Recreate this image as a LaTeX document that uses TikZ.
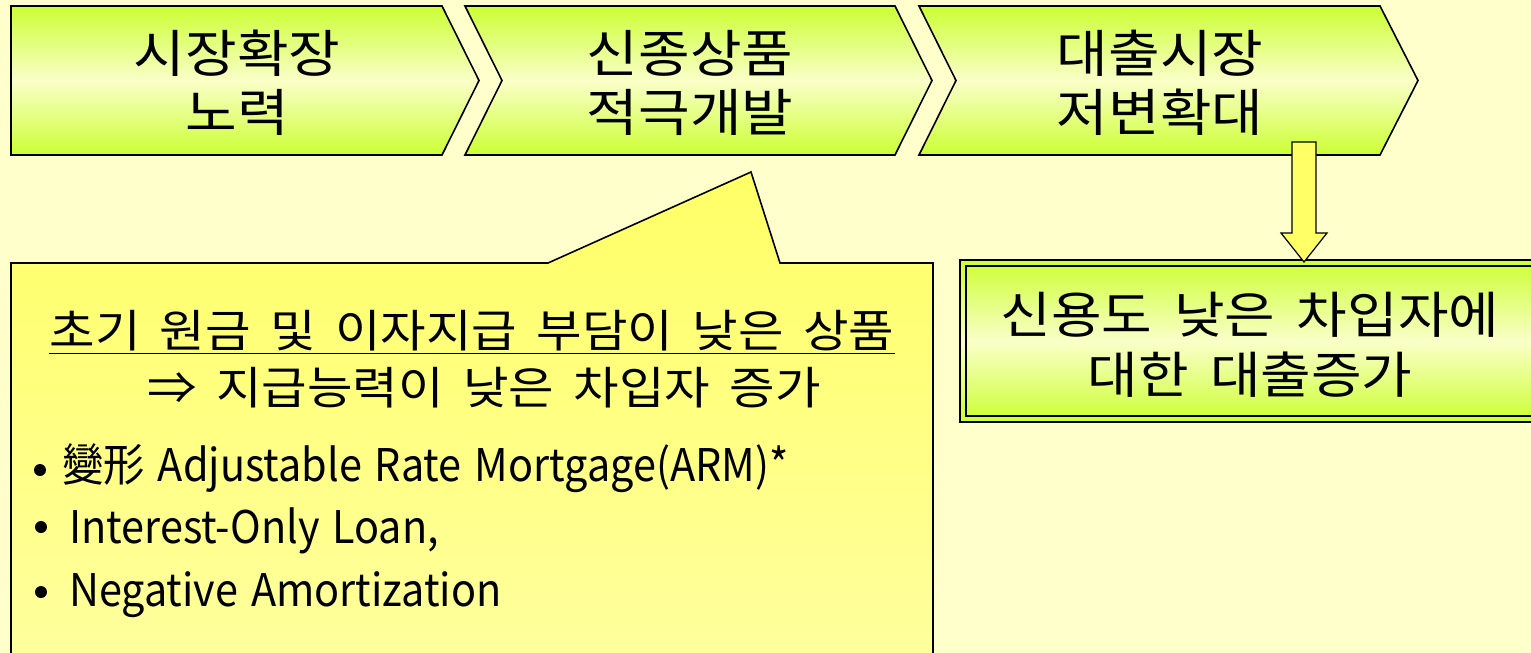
\documentclass[tikz,border=0pt]{standalone}
\usepackage{fontspec}
\setmainfont{Noto Sans CJK KR}
\newfontfamily\kr{Noto Sans CJK KR}[WordSpace=2.2, FakeStretch=1.1]
\newfontfamily\krc{Noto Sans CJK KR}[WordSpace=1.75, FakeStretch=1.1]
\newfontfamily\en{Noto Sans CJK KR}[WordSpace=1.4, FakeStretch=0.92]
\newcommand\myfs[2]{\fontsize{#1}{#2}\selectfont}
\definecolor{bg}{HTML}{FFFFCC}
\definecolor{gedge}{HTML}{CCFF33}
\definecolor{gmid}{HTML}{FAFFC8}
\definecolor{ytop}{HTML}{FFFF66}
\definecolor{ybot}{HTML}{FFFFA0}
\definecolor{arrfill}{HTML}{FFFF66}
\tikzset{
  chev/.style={draw=black, line width=1.6pt, line join=miter, top color=gedge, bottom color=gedge, middle color=gmid},
  chevtext/.style={align=center, inner sep=0pt, font=\kr\myfs{51}{59}},
  boxtext/.style={align=center, inner sep=0pt, font=\kr\myfs{50}{60}},
  calltext/.style={inner sep=0pt, font=\krc\myfs{45}{52}},
  bullettext/.style={anchor=west, inner sep=0pt, font=\en\myfs{45}{52}},
  bulletdot/.style={circle, fill=black, inner sep=0pt, minimum size=12pt},
}
\begin{document}
\begin{tikzpicture}[x=1pt, y=-1pt]
\useasboundingbox (0,0) rectangle (1531,653);
\fill[bg] (0,0) rectangle (1531,653);
\begin{scope}
\clip (0,0) rectangle (1531,653);
% chevrons
\shadedraw[chev] (11,6) -- (442,6) -- (479,80.5) -- (442,155) -- (11,155) -- cycle;
\shadedraw[chev] (465,6) -- (895,6) -- (932,80.5) -- (895,155) -- (465,155) -- (502,80.5) -- cycle;
\shadedraw[chev] (919,6) -- (1380,6) -- (1418,80.5) -- (1380,155) -- (919,155) -- (956,80.5) -- cycle;
\node[chevtext] (c1) at (237,83) {시장확장\\노력};
\node[chevtext] (c2) at (690,83) {신종상품\\적극개발};
\node[chevtext] (c3) at (1160,83) {대출시장\\저변확대};
% callout
\shadedraw[draw=black, line width=1.6pt, top color=ytop, bottom color=ybot]
  (11,263) -- (548,263) -- (751,172) -- (780,263) -- (933,263) -- (933,680) -- (11,680) -- cycle;
\node[calltext] (l1) at (472,332) {\underline{초기 원금 및 이자지급 부담이 낮은 상품}};
\node[calltext] (l2) at (484,388) {⇒ 지급능력이 낮은 차입자 증가};
\node[bulletdot] (b1) at (40,470) {};
\node[bullettext] (t1) at (62,468) {變形 Adjustable Rate Mortgage(ARM)*};
\node[bulletdot] (b2) at (41,527) {};
\node[bullettext] (t2) at (69,531) {Interest-Only Loan,};
\node[bulletdot] (b3) at (41,592) {};
\node[bullettext] (t3) at (69,595) {Negative Amortization};
% right box
\shadedraw[draw=black, line width=1.4pt, top color=gedge, bottom color=gedge, middle color=gmid] (960,260) rectangle (1560,422);
\draw[black, line width=1.6pt] (966,266) rectangle (1560,416);
\node[boxtext] (rb) at (1250,345) {신용도 낮은 차입자에\\대한 대출증가};
% block arrow
\coordinate (at) at (1304,142);
\coordinate (ah) at (1304,262);
\filldraw[fill=arrfill, draw=black, line width=1.2pt, line join=miter]
  ([xshift=-12pt]at) -- ([xshift=12pt]at) -- ([xshift=12pt,yshift=29pt]ah) -- ([xshift=23pt,yshift=29pt]ah)
  -- (ah) -- ([xshift=-23pt,yshift=29pt]ah) -- ([xshift=-12pt,yshift=29pt]ah) -- cycle;
\end{scope}
\end{tikzpicture}
\end{document}
